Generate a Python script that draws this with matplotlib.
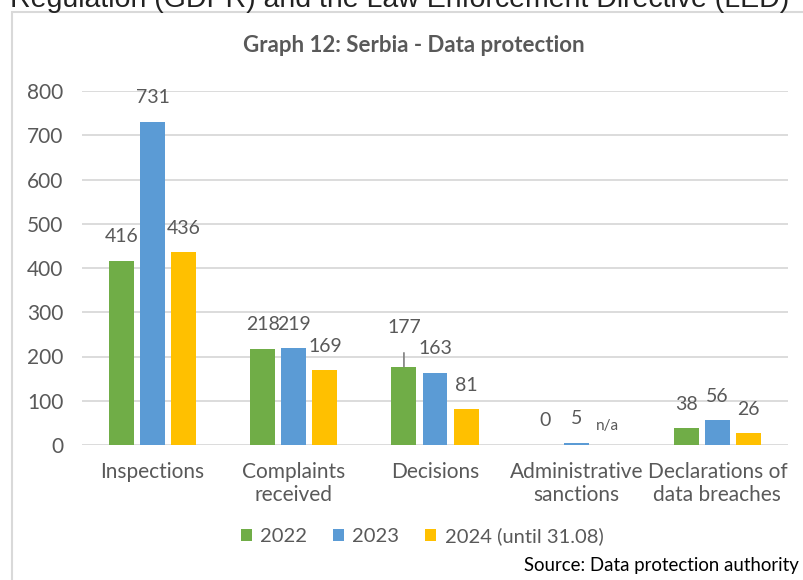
import matplotlib
matplotlib.use("Agg")
import matplotlib.pyplot as plt
import numpy as np
from matplotlib.patches import Rectangle

categories = ["Inspections", "Complaints\nreceived", "Decisions",
              "Administrative\nsanctions", "Declarations of\ndata breaches"]
series_names = ["2022", "2023", "2024 (until 31.08)"]
v2022 = [416, 218, 177, 0, 38]
v2023 = [731, 219, 163, 5, 56]
v2024 = [436, 169, 81, np.nan, 26]
yticks = [0, 100, 200, 300, 400, 500, 600, 700, 800]
colors = ["#70AD47", "#5B9BD5", "#FFC000"]

W, H = 804, 580
fig = plt.figure(figsize=(W / 100, H / 100), dpi=100)
FONT = "Lato"
GRAY = "#595959"

def fx(px):
    return px / W

def fy(py):
    return 1 - py / H

# cut-off text from the surrounding document
fig.text(fx(10), fy(7), "Regulation (GDPR) and the Law Enforcement Directive (LED)",
         fontsize=20.5, family="Liberation Sans", color="#222222", va="baseline", ha="left")

# chart box border
fig.patches.append(Rectangle((fx(12), fy(600)), fx(820), fy(12) - fy(600),
                             transform=fig.transFigure, fill=False,
                             edgecolor="#d9d9d9", linewidth=1.5))

ax = fig.add_axes([fx(82), fy(445), fx(788) - fx(82), fy(91) - fy(445)])
x = np.arange(len(categories))
bw = 0.177
step = 0.22
all_series = [v2022, v2023, v2024]
for i, (vals, c, name) in enumerate(zip(all_series, colors, series_names)):
    pos = x + (i - 1) * step
    ax.bar(pos, vals, width=bw, color=c, label=name, zorder=3)

ax.set_ylim(0, 800)
ax.set_xlim(-0.5, len(categories) - 0.5)
ax.set_yticks(yticks)
ax.set_yticklabels([str(t) for t in yticks], fontsize=15, color=GRAY, family=FONT)
ax.set_xticks(x)
ax.set_xticklabels(categories, fontsize=15, color=GRAY, family=FONT, linespacing=1.2)
ax.tick_params(axis="both", length=0)
ax.tick_params(axis="y", pad=13.5)
ax.tick_params(axis="x", pad=12)
ax.grid(axis="y", color="#d9d9d9", linewidth=1.3, zorder=0)
for s in ax.spines.values():
    s.set_visible(False)

# data labels
lab_off = 24  # pixels above bar top (label centre)
for i, vals in enumerate(all_series):
    for j, v in enumerate(vals):
        px = x[j] + (i - 1) * step
        if np.isnan(v):
            ax.annotate("n/a", (px, 0), xytext=(0, 19), textcoords="offset pixels",
                        ha="center", va="center", fontsize=11, color=GRAY, family=FONT)
            continue
        if i == 0 and j == 2:
            ax.annotate(str(v), (px, v), xytext=(0, 39), textcoords="offset pixels",
                        ha="center", va="center", fontsize=14, color=GRAY, family=FONT,
                        arrowprops=dict(arrowstyle="-", color="#7f7f7f", lw=1.2,
                                        shrinkA=10, shrinkB=0))
            continue
        ax.annotate(str(v), (px, v), xytext=(0, lab_off), textcoords="offset pixels",
                    ha="center", va="center", fontsize=14, color=GRAY, family=FONT)

fig.text(fx(414), fy(46), "Graph 12: Serbia - Data protection", ha="center", va="center",
         fontsize=16, fontweight="bold", color=GRAY, family=FONT)

handles, labels = ax.get_legend_handles_labels()
fig.legend(handles, labels, loc="center", bbox_to_anchor=(fx(422), fy(536)), ncol=3,
           frameon=False, handlelength=0.55, handleheight=0.55, handletextpad=0.4,
           columnspacing=1.3, prop=dict(family=FONT, size=14.5), labelcolor=GRAY)

fig.text(fx(799), fy(566), "Source: Data protection authority", ha="right", va="center",
         fontsize=13.4, color="black", family=FONT)

fig.savefig("out.png", dpi=100)
